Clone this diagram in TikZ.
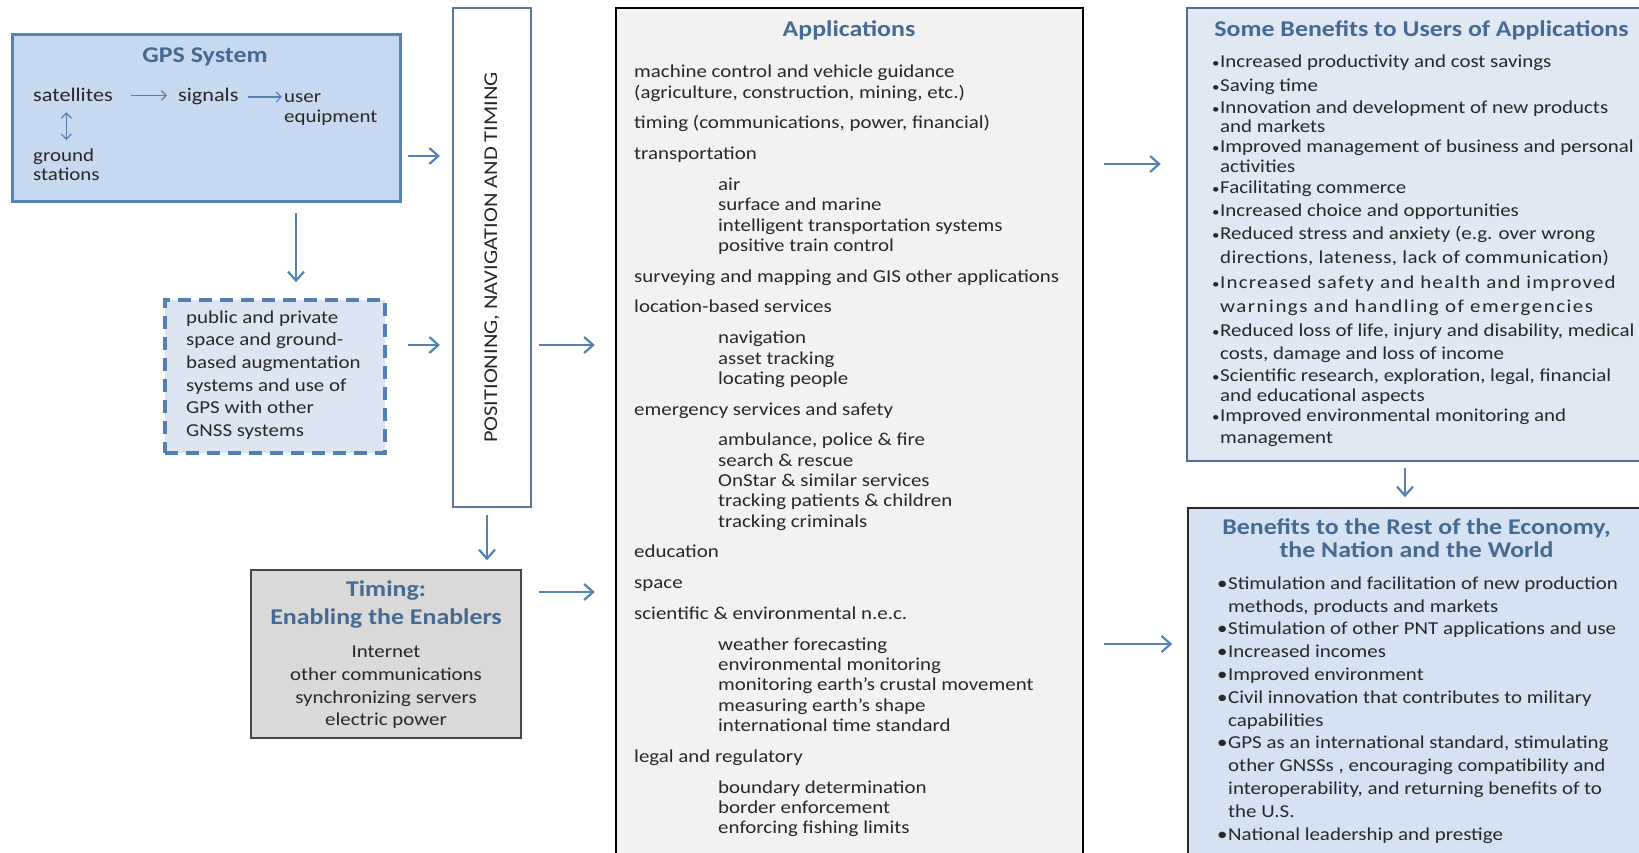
\documentclass[tikz,border=0pt]{standalone}
\usepackage{fontspec}
\setmainfont{Carlito}[FakeStretch=1.15]
\usepackage{tikz}
\usetikzlibrary{arrows.meta}

\definecolor{arrowblue}{RGB}{84,130,180}
\definecolor{titleblue}{RGB}{70,106,146}
\definecolor{textgray}{RGB}{40,40,40}
\definecolor{gpsline}{RGB}{84,130,186}
\definecolor{gpsfill}{RGB}{198,217,240}
\definecolor{augline}{RGB}{86,126,176}
\definecolor{augfill}{RGB}{220,230,242}
\definecolor{pntline}{RGB}{90,120,155}
\definecolor{timeedge}{RGB}{70,70,70}
\definecolor{timefill}{RGB}{217,217,217}
\definecolor{appfill}{RGB}{242,242,242}
\definecolor{userline}{RGB}{79,108,145}
\definecolor{userfill}{RGB}{223,232,243}
\definecolor{econline}{RGB}{40,40,40}
\definecolor{econfill}{RGB}{212,226,243}

\newcommand{\bodyfont}[1]{\fontsize{18.2}{#1}\selectfont}
\newcommand{\titlefont}[1]{\fontsize{22.5}{#1}\selectfont\bfseries}
\newcommand{\lnstrut}{\rule{0pt}{15pt}}
\newcommand{\ttlstrut}{\rule{0pt}{18pt}}
\newcommand{\appind}{\hspace*{84pt}}
\newcommand{\ubul}{\makebox[8pt][l]{\fontsize{13}{13}\selectfont\textbullet}}
\newcommand{\uind}{\hspace*{8pt}}
\newcommand{\ebul}{\makebox[11pt][l]{\textbullet}}
\newcommand{\eind}{\hspace*{11pt}}
\newcommand{\spaced}[2]{{\addfontfeature{LetterSpace=#1}#2}}

\begin{document}
\begin{tikzpicture}[x=1pt, y=-1pt,
    box/.style={rectangle, inner sep=0pt},
    gpsbox/.style={box, draw=gpsline, fill=gpsfill, line width=3pt},
    augbox/.style={box, draw=augline, fill=augfill, line width=3.5pt, dash pattern=on 13pt off 8pt},
    pntbox/.style={box, draw=pntline, fill=white, line width=2pt},
    timebox/.style={box, draw=timeedge, fill=timefill, line width=1.5pt},
    appbox/.style={box, draw=black, fill=appfill, line width=2.5pt},
    userbox/.style={box, draw=userline, fill=userfill, line width=2.5pt},
    econbox/.style={box, draw=econline, fill=econfill, line width=1.5pt},
    title/.style={inner sep=0pt, text=titleblue, font={\titlefont{28}}, align=center},
    body/.style={inner sep=0pt, text=textgray, font={\bodyfont{20.3}}, align=left},
    arrow/.style={-{Straight Barb[length=9pt, width=16pt]}, line width=2.2pt, draw=arrowblue},
    smallarrow/.style={-{Straight Barb[length=5pt, width=10pt]}, line width=1.2pt, draw=arrowblue}
]
\useasboundingbox (0,0) rectangle (1639,853);
\clip (0,0) rectangle (1639,853);
\fill[white] (0,0) rectangle (1639,853);

% boxes
\node (gps) [gpsbox, minimum width=387.5pt, minimum height=167.5pt] at (206.25,118.25) {};
\node (aug) [augbox, minimum width=220pt, minimum height=153pt] at (275,376.5) {};
\node (pnt) [pntbox, minimum width=78pt, minimum height=499pt] at (492,257.5) {};
\node (timing) [timebox, minimum width=270pt, minimum height=168pt] at (386,654) {};
\node (apps) [appbox, minimum width=467pt, minimum height=872pt] at (849.5,444) {};
\node (users) [userbox, minimum width=473pt, minimum height=453pt] at (1423.5,234.5) {};
\node (econ) [econbox, minimum width=472pt, minimum height=372pt] at (1424,694) {};

% GPS system
\node (gpstitle) [title, anchor=base] at (205,63) {GPS System};
\node (sat) [body, anchor=base west, font={\fontsize{19.3}{20}\selectfont}] at (33,102) {satellites};
\node (sig) [body, anchor=base west, font={\fontsize{19.3}{20}\selectfont}] at (178,102) {signals};
\node (usr) [body, anchor=north west, font={\bodyfont{20}}] at (284,87) {\lnstrut user\\equipment};
\node (gnd) [body, anchor=north west, font={\bodyfont{19}}] at (33,146) {\lnstrut ground\\stations};
\draw [smallarrow, shorten <=18pt, shorten >=11pt] (sat.east) -- (sat.east -| sig.west);
\draw [smallarrow, shorten <=9pt, shorten >=2pt] (sig.east) -- (sig.east -| usr.west);
\draw [smallarrow, {Straight Barb[length=5pt, width=10pt]}-{Straight Barb[length=5pt, width=10pt]}, shorten <=10pt, shorten >=6pt] (gnd.north |- sat.south) -- (gnd.north);

% augmentation
\node (augtext) [body, anchor=north west, font={\bodyfont{22.6}}] at (186,308) {\lnstrut public and private\\space and ground-\\based augmentation\\systems and use of\\GPS with other\\GNSS systems};

% positioning, navigation and timing
\node (pnttext) [rotate=90, inner sep=0pt, text=textgray, font={\fontsize{19.5}{22}\selectfont}] at (pnt.center) {POSITIONING, NAVIGATION AND TIMING};

% timing
\node (timetitle) [title, anchor=north] at (386,578) {\ttlstrut Timing:\\Enabling the Enablers};
\node (timetext) [body, align=center, anchor=north, font={\bodyfont{22.7}}] at (386,642.5) {\lnstrut Internet\\other communications\\synchronizing servers\\electric power};

% applications
\node (apptitle) [title, anchor=base] at (849,37) {Applications};
\node (applist) [body, anchor=north west] at (634,62.5) {\lnstrut machine control and vehicle guidance\\
(agriculture, construction, mining, etc.)\\[10.5pt]
timing (communications, power, financial)\\[10.5pt]
transportation\\[10.5pt]
\appind air\\
\appind surface and marine\\
\appind intelligent transportation systems\\
\appind positive train control\\[10.5pt]
surveying and mapping and GIS other applications\\[10.5pt]
location-based services\\[10.5pt]
\appind navigation\\
\appind asset tracking\\
\appind locating people\\[10.5pt]
emergency services and safety\\[10.5pt]
\appind ambulance, police \& fire\\
\appind search \& rescue\\
\appind OnStar \& similar services\\
\appind tracking patients \& children\\
\appind tracking criminals\\[10.5pt]
education\\[10.5pt]
space\\[10.5pt]
scientific \& environmental n.e.c.\\[10.5pt]
\appind weather forecasting\\
\appind environmental monitoring\\
\appind monitoring earth’s crustal movement\\
\appind measuring earth’s shape\\
\appind international time standard\\[10.5pt]
legal and regulatory\\[10.5pt]
\appind boundary determination\\
\appind border enforcement\\
\appind enforcing fishing limits};

% benefits to users
\node (usertitle) [title, anchor=base] at (1421.5,37) {Some Benefits to Users of Applications};
\node (userlist) [body, anchor=north west, font={\bodyfont{20}}] at (1212,52) {\lnstrut\ubul Increased productivity and cost savings\\[4pt]
\ubul Saving time\\[2pt]
\ubul Innovation and development of new products\\[-1pt]
\uind and markets\\[0pt]
\ubul Improved management of business and personal\\[0pt]
\uind activities\\[1pt]
\ubul Facilitating commerce\\[3pt]
\ubul Increased choice and opportunities\\[3pt]
\ubul Reduced stress and anxiety (e.g. over wrong\\[4pt]
\uind \spaced{2.5}{directions, lateness, lack of communication)}\\[5pt]
\ubul \spaced{6.4}{Increased safety and health and improved}\\[4pt]
\uind \spaced{8.2}{warnings and handling of emergencies}\\[4pt]
\ubul Reduced loss of life, injury and disability, medical\\[3pt]
\uind costs, damage and loss of income\\[2pt]
\ubul Scientific research, exploration, legal, financial\\[0pt]
\uind and educational aspects\\[0pt]
\ubul Improved environmental monitoring and\\[2pt]
\uind management};

% benefits to economy
\node (econtitle) [title, anchor=north, font={\titlefont{23}}] at (1416.5,516) {\ttlstrut Benefits to the Rest of the Economy,\\the Nation and the World};
\node (econlist) [body, anchor=north west, font={\bodyfont{22.8}}] at (1217,574) {\lnstrut\ebul Stimulation and facilitation of new production\\
\eind methods, products and markets\\
\ebul Stimulation of other PNT applications and use\\
\ebul Increased incomes\\
\ebul Improved environment\\
\ebul Civil innovation that contributes to military\\
\eind capabilities\\
\ebul GPS as an international standard, stimulating\\
\eind other GNSSs , encouraging compatibility and\\
\eind interoperability, and returning benefits of to\\
\eind the U.S.\\
\ebul National leadership and prestige};

% connectors
\draw [arrow, shorten <=6pt, shorten >=12pt] ([yshift=-37.75pt]gps.east) -- ([yshift=-37.75pt]gps.east -| pnt.west);
\draw [arrow, shorten <=21pt, shorten >=12pt] ([yshift=31.5pt]aug.east) -- ([yshift=31.5pt]aug.east -| pnt.west);
\draw [arrow, shorten <=10pt, shorten >=16pt] ([xshift=89.75pt]gps.south) -- ([xshift=89.75pt]gps.south |- aug.north);
\draw [arrow, shorten <=7pt, shorten >=20pt] ([yshift=-87.5pt]pnt.east) -- ([yshift=-87.5pt]pnt.east -| apps.west);
\draw [arrow, shorten <=7pt, shorten >=9pt] ([xshift=-5pt]pnt.south) -- ([xshift=-5pt]pnt.south |- timing.north);
\draw [arrow, shorten <=17pt, shorten >=20pt] ([yshift=62pt]timing.east) -- ([yshift=62pt]timing.east -| apps.west);
\draw [arrow, shorten <=20pt, shorten >=25pt] ([yshift=280pt]apps.east) -- ([yshift=280pt]apps.east -| users.west);
\draw [arrow, shorten <=20pt, shorten >=15pt] ([yshift=-200pt]apps.east) -- ([yshift=-200pt]apps.east -| econ.west);
\draw [arrow, shorten <=6pt, shorten >=10pt] ([xshift=-18.5pt]users.south) -- ([xshift=-18.5pt]users.south |- econ.north);
\end{tikzpicture}
\end{document}
